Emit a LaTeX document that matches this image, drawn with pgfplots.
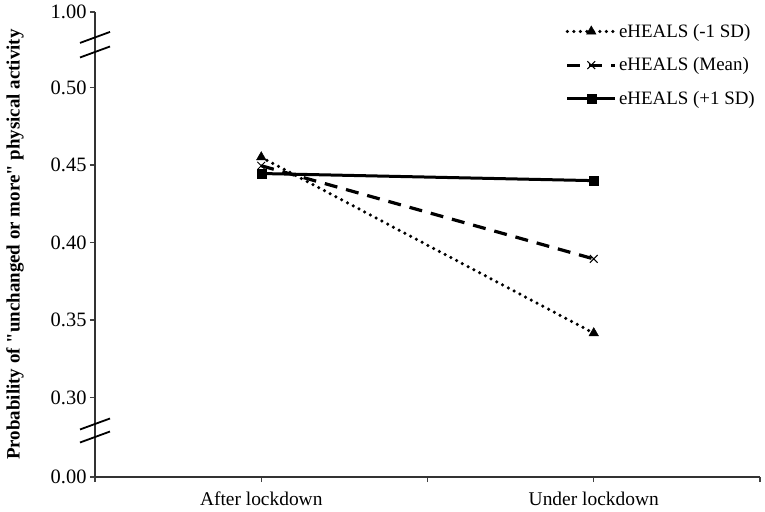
\documentclass[border=0pt]{standalone}
\usepackage{fontspec}
\setmainfont{Liberation Serif}[Ligatures=TeXOff]
\usepackage{pgfplots}
\pgfplotsset{compat=1.18}
\begin{document}
\begin{tikzpicture}
\useasboundingbox (-95bp,-35bp) rectangle (670bp,477bp);
\begin{axis}[
  scale only axis, width=665bp, height=465bp,
  at={(0,0)}, anchor=south west,
  xmin=-0.5, xmax=1.5,
  ymin=0.2487, ymax=0.5487,
  axis x line=bottom, axis y line=left,
  axis line style={-, line width=1.2bp, black!80},
  xtick={-0.5,0,0.5,1,1.5},
  xticklabels={,After lockdown,,Under lockdown,},
  ytick={0.2487,0.3,0.35,0.4,0.45,0.5,0.5487},
  yticklabels={0.00,0.30,0.35,0.40,0.45,0.50,1.00},
  tick align=outside, major tick length=5bp,
  tick style={line width=1.2bp, black!75},
  /pgf/number format/assume math mode=true,
  yticklabel style={font=\fontsize{20.5}{24}\selectfont, black},
  xticklabel style={font=\fontsize{19.5}{23}\selectfont, black, yshift=-6bp},
  ylabel={\bfseries Probability of "unchanged or more" physical activity},
  ylabel style={font=\fontsize{19}{22}\selectfont, yshift=20bp},
  clip=false,
  legend style={draw=none, fill=none, at={(1,1)}, anchor=north east,
    xshift=0bp, yshift=-8bp,
    font=\fontsize{19}{23}\selectfont, row sep=15bp},
  legend cell align=left,
  legend image code/.code={\draw[#1, mark=none] plot coordinates {(0bp,0bp) (48bp,0bp)};
    \draw[#1, only marks] plot coordinates {(24bp,0bp)};},
]
\addplot[black, line width=3.5bp, line cap=round, dash pattern=on 0bp off 6.5bp,
  mark=triangle*, mark size=5.5bp, mark options={solid, line width=0.5bp}]
  coordinates {(0,0.455) (1,0.3415)};
\addlegendentry{eHEALS (-1 SD)}
\addplot[black, line width=3.2bp, dash pattern=on 13bp off 9bp,
  mark=x, mark size=5.5bp, mark options={solid, line width=1bp}]
  coordinates {(0,0.4495) (1,0.3894)};
\addlegendentry{eHEALS (Mean)}
\addplot[black, line width=3bp,
  mark=square*, mark size=4.5bp, mark options={solid, line width=0.5bp}]
  coordinates {(0,0.4445) (1,0.4399)};
\addlegendentry{eHEALS (+1 SD)}
\draw[line width=1.8bp] ([xshift=-15bp,yshift=-5.5bp]axis cs:-0.5,0.5323) -- ([xshift=15bp,yshift=5.5bp]axis cs:-0.5,0.5323);
\draw[line width=1.8bp] ([xshift=-15bp,yshift=-5.5bp]axis cs:-0.5,0.5229) -- ([xshift=15bp,yshift=5.5bp]axis cs:-0.5,0.5229);
\draw[line width=1.8bp] ([xshift=-15bp,yshift=-5.5bp]axis cs:-0.5,0.2829) -- ([xshift=15bp,yshift=5.5bp]axis cs:-0.5,0.2829);
\draw[line width=1.8bp] ([xshift=-15bp,yshift=-5.5bp]axis cs:-0.5,0.2745) -- ([xshift=15bp,yshift=5.5bp]axis cs:-0.5,0.2745);
\end{axis}
\end{tikzpicture}
\end{document}
